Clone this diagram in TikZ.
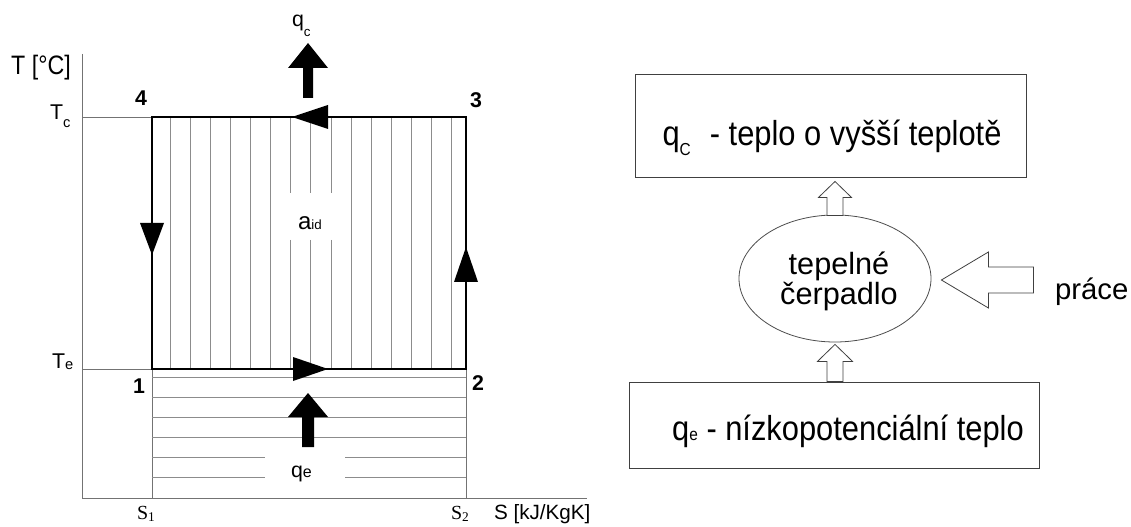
\documentclass[tikz,border=0pt]{standalone}
\usepackage{fontspec}
\setmainfont{Liberation Sans}
\newfontfamily\boxfont[FakeStretch=0.89]{Liberation Sans}
\newfontfamily\axfont[FakeStretch=0.87]{Liberation Sans}
\newfontfamily\serifS{Liberation Serif}
\usetikzlibrary{calc,shapes.geometric}
\begin{document}
\begin{tikzpicture}[x=0.75pt,y=-0.75pt,
  thinax/.style={draw=black!55,line width=0.6pt},
  hatch/.style={draw=black!45,line width=0.45pt},
  cyc/.style={draw=black,line width=1.4pt,line join=miter},
  hollow/.style={draw=black!75,fill=white,line width=0.6pt,line join=miter},
  lbl/.style={inner sep=0pt,outer sep=0pt},
  numlbl/.style={lbl,anchor=base,font=\bfseries\fontsize{16}{16}\selectfont},
  tlbl/.style={lbl,anchor=base west,font=\fontsize{16}{16}\selectfont},
  slbl/.style={lbl,anchor=base,font=\serifS\fontsize{15}{15}\selectfont},
  boxn/.style={draw=black!75,line width=0.7pt,inner sep=0pt},
  boxtxt/.style={lbl,anchor=base,font=\boxfont\fontsize{26}{30}\selectfont},
  elltxt/.style={lbl,align=center,font=\fontsize{23}{22.5}\selectfont},
]
\useasboundingbox (0,0) rectangle (1131,527);

% ---------- T-S diagram ----------
\draw[thinax] (82,54) -- (82,498) -- (587,498);
\draw[thinax] (82,117) -- (152,117);
\draw[thinax] (82,369) -- (152,369);
\draw[thinax] (152,369) -- (152,498);
\draw[thinax] (466,369) -- (466,498);

% vertical hatching (a_id)
\foreach \i in {0,1,2,3,4,5,9,10,11,12,13,14}
  \draw[hatch] ({170+20.1*\i},117) -- ({170+20.1*\i},369);
\foreach \i in {6,7,8} {
  \draw[hatch] ({170+20.1*\i},117) -- ({170+20.1*\i},193);
  \draw[hatch] ({170+20.1*\i},240) -- ({170+20.1*\i},369);
}
% horizontal hatching (q_e)
\foreach \y in {377,397,417,437}
  \draw[hatch] (152,\y) -- (466,\y);
\foreach \y in {457,477} {
  \draw[hatch] (152,\y) -- (265,\y);
  \draw[hatch] (345,\y) -- (466,\y);
}

% cycle
\draw[cyc] (152,117) rectangle (466,369);
\fill (292,117) -- (328,105) -- (328,129) -- cycle;
\fill (152,255) -- (140,223) -- (164,223) -- cycle;
\fill (466,247) -- (454,282) -- (478,282) -- cycle;
\fill (328,369) -- (293,357) -- (293,381) -- cycle;

% heat arrows
\fill (303,98) -- (303,68) -- (288,68) -- (308,43) -- (328,68) -- (313,68) -- (313,98) -- cycle;
\fill (302,447) -- (302,417) -- (288,417) -- (308,393) -- (328,417) -- (314,417) -- (314,447) -- cycle;

% labels
\node[lbl,anchor=base,font=\axfont\fontsize{20}{20}\selectfont] (ylab) at (41,75) {T [°C]};
\node[numlbl] (p4) at (141,106) {4};
\node[numlbl] (p3) at (476,108) {3};
\node[numlbl] (p1) at (139,393) {1};
\node[numlbl] (p2) at (478,390) {2};
\node[tlbl] (tc) at (50,120) {T\raisebox{-6pt}{\fontsize{11}{11}\selectfont c}};
\node[tlbl] (te) at (52,368) {T\raisebox{-1pt}{\fontsize{11}{11}\selectfont e}};
\node[lbl,anchor=base west,font=\fontsize{16}{16}\selectfont] (qc) at (292,27) {q\raisebox{-7pt}{\fontsize{10}{10}\selectfont c}};
\node[lbl,anchor=base west,font=\fontsize{16}{16}\selectfont] (qe) at (291,477) {q{\fontsize{12}{12}\selectfont e}};
\node[lbl,anchor=base west,font=\fontsize{18}{18}\selectfont] (aid) at (298,230) {a{\fontsize{10}{10}\selectfont id}};
\node[slbl] (s1) at (146,519) {S\raisebox{-1.5pt}{\fontsize{10}{10}\selectfont 1}};
\node[slbl] (s2) at (460,519) {S\raisebox{-1.5pt}{\fontsize{10}{10}\selectfont 2}};
\node[lbl,anchor=base west,font=\fontsize{15.5}{15.5}\selectfont] (xlab) at (494,519) {S [kJ/KgK]};

% ---------- block scheme ----------
\node[boxn,minimum width=293.25pt,minimum height=77.25pt] (hot) at (830.5,125.5) {};
\node[boxtxt] (hottxt) at (832,146) {q\raisebox{-7pt}{\fontsize{13}{13}\selectfont C}\hspace{0.55em}- teplo o vyšší teplotě};

\node[boxn,minimum width=307.5pt,minimum height=64.5pt] (cold) at (834,425) {};
\node[boxtxt] (coldtxt) at (848,440) {q{\fontsize{13}{13}\selectfont e} - nízkopotenciální teplo};

\node[draw=black!70,line width=0.6pt,ellipse,minimum width=144pt,minimum height=95.25pt,inner sep=0pt] (hp) at (835,278.5) {};
\node[elltxt] (hptxt) at (839,281) {tepelné\\čerpadlo};

\node[lbl,anchor=base west,font=\fontsize{22}{22}\selectfont] (prace) at (1055,300) {práce};

% hollow arrows
\coordinate (t0) at (hp.north |- hot.south);
\coordinate (t1) at ($(t0)+(0,4)$);
\draw[hollow] ($(hp.north)+(-8,1)$) -- ($(t1)+(-8,16)$) -- ($(t1)+(-16.5,16)$) -- (t1)
  -- ($(t1)+(16.5,16)$) -- ($(t1)+(8,16)$) -- ($(hp.north)+(8,1)$) -- cycle;

\coordinate (b1) at ($(hp.south)+(0,2)$);
\coordinate (b2) at (hp.south |- cold.north);
\draw[hollow] ($(b2)+(-8,0)$) -- ($(b1)+(-8,17)$) -- ($(b1)+(-17.5,17)$) -- (b1)
  -- ($(b1)+(17.5,17)$) -- ($(b1)+(8,17)$) -- ($(b2)+(8,0)$) -- cycle;

\coordinate (wtip) at ($(hp.east)+(10,1.5)$);
\coordinate (wtail) at ($(wtip)+(92,0)$);
\draw[hollow] (wtip) -- ($(wtip)+(47,-28)$) -- ($(wtip)+(47,-13)$) -- ($(wtail)+(0,-13)$)
  -- ($(wtail)+(0,13)$) -- ($(wtip)+(47,13)$) -- ($(wtip)+(47,28)$) -- cycle;
\end{tikzpicture}
\end{document}
